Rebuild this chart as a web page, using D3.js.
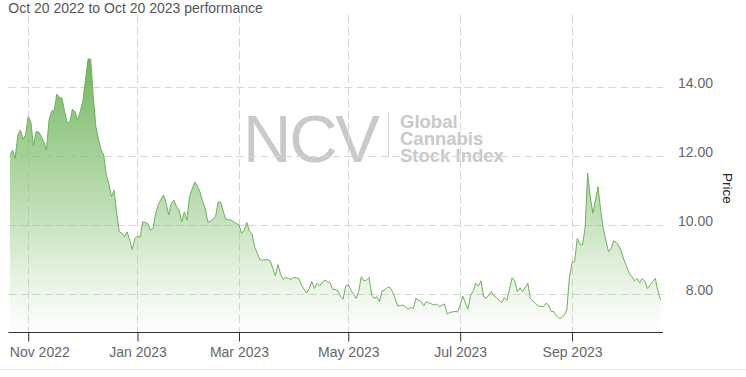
<!DOCTYPE html>
<html><head><meta charset="utf-8">
<script src="https://cdn.jsdelivr.net/npm/d3@7"></script>
<style>
body{margin:0;background:#fff}
svg{display:block}
text{font-family:"Liberation Sans",Arial,Helvetica,sans-serif}
</style>
</head><body>
<svg id="c" width="746" height="377"></svg>
<script>
// ---- data ----
const title = "Oct 20 2022 to Oct 20 2023 performance";
const firstDay = "2022-10-21";
const lastDay = "2023-10-20";
const holidays = ["2022-11-24","2022-12-26","2023-01-02","2023-01-16","2023-02-20",
  "2023-04-07","2023-05-29","2023-06-19","2023-07-04","2023-09-04"];
// one closing value per trading day
const prices = [
12.04,12.18,11.94,12.62,12.76,12.49,12.62,13.15,13.00,12.30,
12.71,12.71,12.58,12.42,12.18,13.05,13.31,13.34,13.80,13.71,
13.68,13.29,12.97,13.00,13.37,13.29,13.05,13.30,13.60,14.21,
14.82,14.82,13.73,12.86,12.50,12.20,12.04,11.46,11.20,10.83,
11.02,10.35,9.81,9.77,9.67,9.81,9.57,9.30,9.62,9.69,
9.65,10.10,10.08,10.05,9.86,9.91,10.35,10.60,10.75,10.88,
10.64,10.30,10.64,10.73,10.54,10.44,10.10,10.39,10.15,10.83,
11.05,11.26,11.14,10.97,10.70,10.50,10.10,10.12,10.18,10.25,
10.68,10.66,10.39,10.17,10.16,10.15,10.10,10.06,10.01,9.77,
9.86,10.08,9.84,9.75,9.38,9.20,9.01,8.99,9.00,9.01,
8.97,8.75,8.54,8.86,8.58,8.43,8.49,8.46,8.43,8.49,
8.47,8.46,8.27,8.15,8.03,8.17,8.37,8.17,8.32,8.24,
8.35,8.41,8.37,8.34,8.14,8.14,8.10,7.95,7.86,8.24,
8.27,8.12,8.00,7.88,8.08,8.51,8.39,8.41,8.49,7.98,
7.88,7.93,7.79,8.10,8.12,8.20,8.20,8.08,7.88,7.66,
7.67,7.69,7.64,7.57,7.62,7.59,7.88,7.83,7.79,7.66,
7.79,7.75,7.72,7.69,7.72,7.64,7.68,7.72,7.43,7.47,
7.49,7.50,7.49,7.69,7.95,7.75,7.57,7.98,8.08,8.32,
8.24,8.39,7.93,7.88,7.98,8.08,7.96,7.90,7.83,7.76,
7.90,7.83,8.15,8.48,8.39,8.08,8.19,8.08,8.20,8.32,
7.88,7.80,7.74,7.66,7.65,7.64,7.74,7.69,7.50,7.50,
7.38,7.30,7.32,7.40,7.55,8.50,8.92,8.95,9.62,9.46,
9.43,9.91,11.51,10.83,10.35,10.73,11.12,10.44,9.91,9.57,
9.23,9.33,9.55,9.50,9.40,9.23,8.99,8.80,8.61,8.51,
8.39,8.46,8.34,8.46,8.37,8.17,8.27,8.37,8.46,8.10,
7.84];
const yTicks = [8, 10, 12, 14];
const xTickMonths = ["2022-11","2023-01","2023-03","2023-05","2023-07","2023-09"];
const watermarkBig = "NCV";
const watermarkLines = ["Global","Cannabis","Stock Index"];
const yTitle = "Price";

// ---- trading calendar ----
const pd = d3.utcParse("%Y-%m-%d");
const fDay = d3.utcFormat("%Y-%m-%d");
const fMonth = d3.utcFormat("%Y-%m");
const fLabel = d3.utcFormat("%b %Y");
const hol = new Set(holidays);
const days = d3.utcDay.range(pd(firstDay), d3.utcDay.offset(pd(lastDay), 1))
  .filter(d => d.getUTCDay() !== 0 && d.getUTCDay() !== 6 && !hol.has(fDay(d)));
const data = days.map((d, i) => ({date: d, i, v: prices[i]})).filter(d => d.v != null);

// ---- layout ----
const svg = d3.select("#c");
const plotLeft = 8.5, plotRight = 663, plotTop = 15, plotBottom = 332.5;
const x = d3.scaleLinear().domain([0, days.length - 1]).range([10, 660.5]);
const y = d3.scaleLinear().domain([6.878, 16.30]).range([333, 8]);
const tickIdx = xTickMonths.map(m => days.findIndex(d => fMonth(d) === m));

// bottom frame line
svg.append("line").attr("x1", 0).attr("x2", 746).attr("y1", 369.5).attr("y2", 369.5)
  .attr("stroke", "#e6e6e6").attr("stroke-width", 1);

// watermark
const wm = svg.append("g").attr("fill", "#c9c9c9");
wm.append("text").attr("x", 243).attr("y", 161.5).attr("font-size", 67).attr("textLength", 137)
  .text(watermarkBig);
wm.append("line").attr("x1", 388.5).attr("x2", 388.5).attr("y1", 112).attr("y2", 157)
  .attr("stroke", "#d2d2d2").attr("stroke-width", 1);
const wt = wm.append("text").attr("font-size", 18.5).attr("font-weight", "bold");
wt.selectAll("tspan").data(watermarkLines).join("tspan")
  .attr("x", 400).attr("y", (d, i) => 127.5 + i * 17.2).text(d => d);

// gridlines
svg.append("g").selectAll("line").data(yTicks).join("line")
  .attr("x1", plotLeft).attr("x2", plotRight)
  .attr("y1", d => Math.round(y(d)) + 0.5).attr("y2", d => Math.round(y(d)) + 0.5)
  .attr("stroke", "#d6d6d6").attr("stroke-dasharray", "8,4");
svg.append("g").selectAll("line").data(tickIdx).join("line")
  .attr("x1", d => Math.round(x(d)) + 0.5).attr("x2", d => Math.round(x(d)) + 0.5)
  .attr("y1", plotTop).attr("y2", plotBottom)
  .attr("stroke", "#d6d6d6").attr("stroke-dasharray", "8,4");

// gradient
const defs = svg.append("defs");
const grad = defs.append("linearGradient").attr("id", "g1")
  .attr("gradientUnits", "userSpaceOnUse")
  .attr("x1", 0).attr("x2", 0).attr("y1", y(d3.max(prices))).attr("y2", 333);
grad.append("stop").attr("offset", 0).attr("stop-color", "#71b55e").attr("stop-opacity", 1);
grad.append("stop").attr("offset", 0.55).attr("stop-color", "#8cc47b").attr("stop-opacity", 0.55);
grad.append("stop").attr("offset", 1).attr("stop-color", "#a6d296").attr("stop-opacity", 0);

svg.append("path").datum(data)
  .attr("d", d3.area().x(d => x(d.i)).y0(333).y1(d => y(d.v)))
  .attr("fill", "url(#g1)");
svg.append("path").datum(data)
  .attr("d", d3.line().x(d => x(d.i)).y(d => y(d.v)))
  .attr("fill", "none").attr("stroke", "#6bb159").attr("stroke-width", 1)
  .attr("stroke-linejoin", "round");

// x axis
svg.append("line").attr("x1", plotLeft).attr("x2", plotRight)
  .attr("y1", plotBottom).attr("y2", plotBottom).attr("stroke", "#333");
const xa = svg.append("g").attr("transform", `translate(0,${plotBottom})`)
  .call(d3.axisBottom(x).tickValues(tickIdx).tickFormat(i => fLabel(days[i]))
    .tickSize(9).tickSizeOuter(0));
xa.select(".domain").remove();
xa.selectAll(".tick line").attr("stroke", "#333");
xa.selectAll(".tick text").attr("fill", "#666").attr("font-size", 14)
  .attr("font-family", null).attr("dy", 0).attr("y", 24);
xa.selectAll(".tick").each(function(d) {
  const t = d3.select(this).select("text");
  const w = t.node().getComputedTextLength();
  const cx = x(d);
  if (cx - w / 2 < 9.3) t.attr("text-anchor", "start").attr("x", 9.3 - cx);
});

// y axis (right)
const ya = svg.append("g").attr("transform", "translate(713,0)")
  .call(d3.axisRight(y).tickValues(yTicks).tickFormat(d3.format(".2f")).tickSize(0));
ya.select(".domain").remove();
ya.selectAll(".tick text").attr("text-anchor", "end").attr("x", 0).attr("dy", 0)
  .attr("fill", "#666").attr("font-size", 14).attr("font-family", null);

// y title
svg.append("text").attr("x", 723).attr("y", 188.5).attr("text-anchor", "middle")
  .attr("transform", "rotate(90,723,188.5)").attr("font-size", 13.5).attr("fill", "#222")
  .text(yTitle);

// title
svg.append("text").attr("x", 8.3).attr("y", 13).attr("font-size", 14).attr("fill", "#555")
  .text(title);
</script>
</body></html>
